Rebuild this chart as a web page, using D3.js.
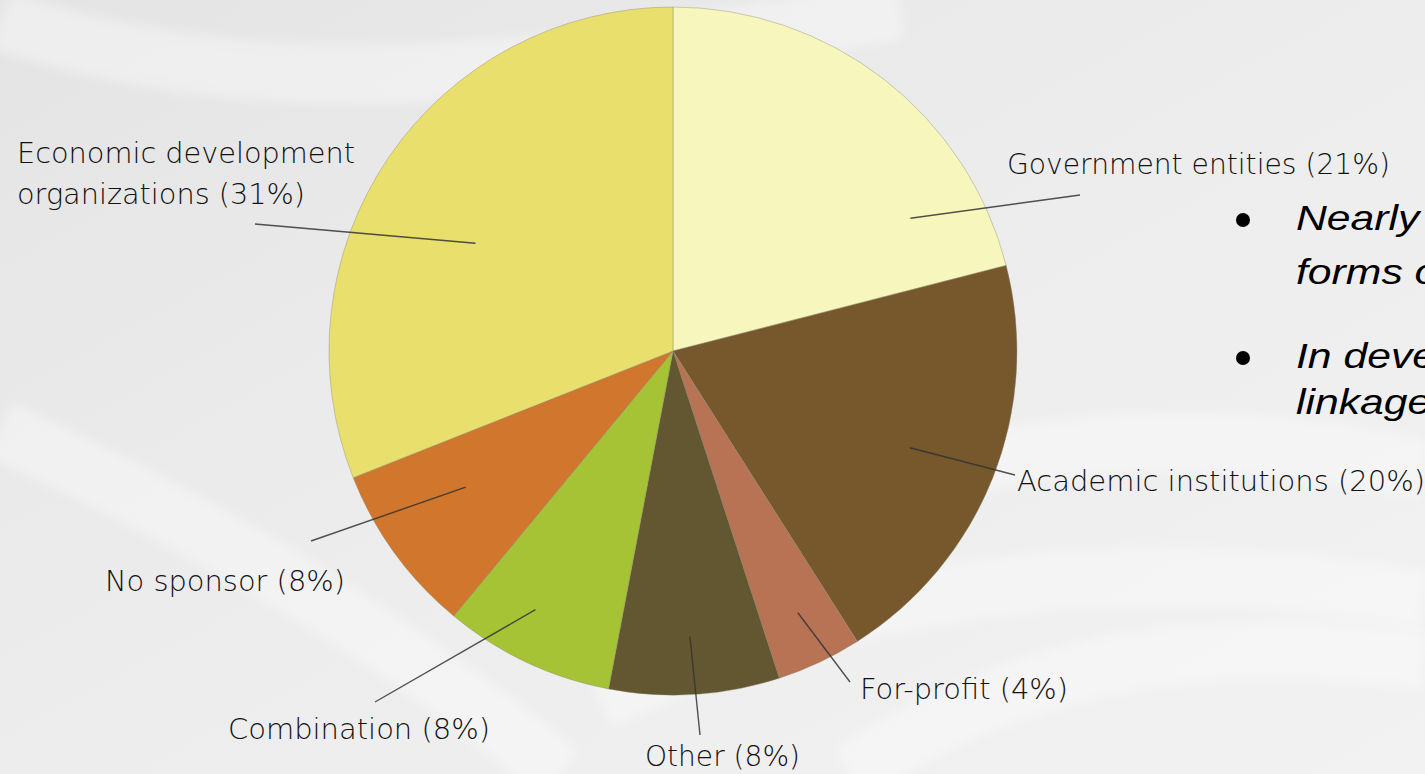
<!DOCTYPE html>
<html>
<head>
<meta charset="utf-8">
<script src="https://cdn.jsdelivr.net/npm/d3@7"></script>
<style>
  html, body { margin: 0; padding: 0; overflow: hidden; }
  svg { display: block; }
</style>
</head>
<body>
<svg id="piesvg" width="1425" height="774"></svg>
<script>
// slice data, clockwise from 12 o'clock
const categories = ["Government entities", "Academic institutions", "For-profit", "Other", "Combination", "No sponsor", "Economic development organizations"];
const shares = [21, 20, 4, 8, 8, 8, 31];
const sliceColors = ["#f7f6bd", "#76582c", "#b87354", "#625731", "#a5c335", "#d0762d", "#e8df6d"];
// label text lines
const labelLines = [
  ["Government entities (21%)"],
  ["Academic institutions (20%)"],
  ["For-profit (4%)"],
  ["Other (8%)"],
  ["Combination (8%)"],
  ["No sponsor (8%)"],
  ["Economic development", "organizations (31%)"]
];
const bulletLines = [["Nearly", "forms of"], ["In developing", "linkages"]];

const W = 1425, H = 774;
const cx = 673, cy = 351, R = 344;

// label layout: text anchor point, leader start (angle shift in deg, radius) and leader end
const labelLayout = [
  { x: 1007, y: 174, len: [383], lead: { da: 23, r: 272 }, end: [1080, 195] },
  { x: 1017, y: 491, len: [408], lead: { da: 0.6, r: 256 }, end: [1015, 475] },
  { x: 860, y: 699, len: [208], lead: { da: -0.3, r: 290 }, end: [850, 682] },
  { x: 645, y: 766, len: [155], lead: { da: 0.2, r: 286 }, end: [700, 735] },
  { x: 228, y: 739, len: [262], lead: { da: 2.8, r: 293 }, end: [375, 702] },
  { x: 105, y: 591, len: [240], lead: { da: 2.7, r: 248 }, end: [311, 541] },
  { x: 17, y: 163, len: [338, 288], lead: { da: -5.6, r: 225 }, end: [255, 224] }
];

const svg = d3.select("#piesvg");

// background
const defs = svg.append("defs");
const bg = defs.append("linearGradient").attr("id", "bg").attr("x1", 0).attr("y1", 0).attr("x2", 1).attr("y2", 1);
bg.append("stop").attr("offset", "0%").attr("stop-color", "#e4e4e4");
bg.append("stop").attr("offset", "45%").attr("stop-color", "#ececec");
bg.append("stop").attr("offset", "100%").attr("stop-color", "#f2f2f2");
svg.append("rect").attr("width", W).attr("height", H).attr("fill", "url(#bg)");

// faint swooshes
const swooshes = [
  "M 0 20 C 300 120, 600 60, 900 10",
  "M 700 560 C 950 430, 1200 420, 1425 470",
  "M 600 700 C 900 560, 1200 560, 1425 600",
  "M 0 430 C 200 520, 400 640, 560 774",
  "M 850 774 C 1050 640, 1250 640, 1425 660"
];
svg.append("g").selectAll("path").data(swooshes).join("path")
  .attr("d", d => d)
  .attr("fill", "none")
  .attr("stroke", "#ffffff")
  .attr("stroke-width", 60)
  .attr("stroke-opacity", 0.35)
  .style("filter", "blur(6px)");

// pie
const pie = d3.pie().sort(null).value(d => d)(shares);
const arc = d3.arc().innerRadius(0).outerRadius(R);
const g = svg.append("g").attr("transform", `translate(${cx},${cy})`);
g.selectAll("path.slice").data(pie).join("path")
  .attr("class", "slice")
  .attr("d", arc)
  .attr("fill", (d, i) => sliceColors[i])
  .attr("stroke", "#8a8570")
  .attr("stroke-opacity", 0.5)
  .attr("stroke-width", 0.8);

// leader lines
const rad = Math.PI / 180;
pie.forEach((d, i) => {
  const L = labelLayout[i];
  const a = (d.startAngle + d.endAngle) / 2 + L.lead.da * rad;
  const x1 = cx + L.lead.r * Math.sin(a);
  const y1 = cy - L.lead.r * Math.cos(a);
  svg.append("line")
    .attr("x1", x1).attr("y1", y1)
    .attr("x2", L.end[0]).attr("y2", L.end[1])
    .attr("stroke", "#333")
    .attr("stroke-width", 1.4)
    .attr("stroke-opacity", 0.85);
});

// labels
labelLines.forEach((lines, i) => {
  const L = labelLayout[i];
  lines.forEach((t, j) => {
    svg.append("text")
      .text(t)
      .attr("x", L.x)
      .attr("y", L.y + j * 41)
      .attr("textLength", L.len[j])
      .attr("lengthAdjust", "spacingAndGlyphs")
      .style("font-family", "'DejaVu Sans', sans-serif")
      .style("font-weight", 200)
      .style("font-size", "28px")
      .style("fill", "#111");
  });
});

// bullets on the right (cut by the window edge)
const bulletY = [[230, 284], [368, 414]];
bulletLines.forEach((lines, i) => {
  svg.append("circle").attr("cx", 1243).attr("cy", bulletY[i][0] - 10).attr("r", 7).attr("fill", "#000");
  lines.forEach((t, j) => {
    svg.append("text")
      .text(t)
      .attr("transform", `translate(1296,${bulletY[i][j]}) scale(1.22,1)`)
      .style("font-family", "'Liberation Sans', Arial, sans-serif")
      .style("font-style", "italic")
      .style("font-size", "35px")
      .style("fill", "#000");
  });
});
</script>
</body>
</html>
